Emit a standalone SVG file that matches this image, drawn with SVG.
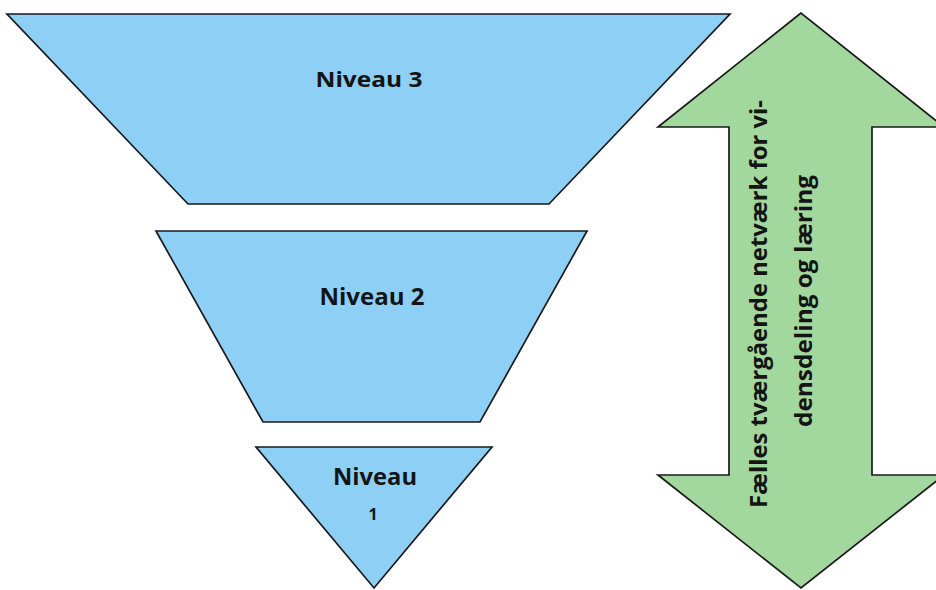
<svg xmlns="http://www.w3.org/2000/svg" width="936" height="590" viewBox="0 0 936 590">
<style>
.lvl{fill:#8ecff6;stroke:#1a1a1a;stroke-width:1.7;stroke-linejoin:miter}
.arr{fill:#a2d79d;stroke:#1a1a1a;stroke-width:1.7}
.t{font-family:"Open Sans","Liberation Sans",sans-serif;font-weight:bold;fill:#141414;text-anchor:middle}
</style>
<rect width="936" height="590" fill="#ffffff"/>
<g id="niveau3">
<polygon class="lvl" points="7,14 730,14 549,204 188,204"/>
<text class="t" x="369" y="87" font-size="22" textLength="107" lengthAdjust="spacingAndGlyphs">Niveau 3</text>
</g>
<g id="niveau2">
<polygon class="lvl" points="156,231 587,231 480,422 263,422"/>
<text class="t" x="372" y="305" font-size="23" textLength="105" lengthAdjust="spacingAndGlyphs">Niveau 2</text>
</g>
<g id="niveau1">
<polygon class="lvl" points="256,447 492,447 374,588"/>
<text class="t" x="375" y="485" font-size="24" textLength="84" lengthAdjust="spacingAndGlyphs">Niveau</text>
<text class="t" x="373" y="520" font-size="16">1</text>
</g>
<g id="netvaerk">
<polygon class="arr" points="801,13 658,127 729,127 729,475 658,475 801,588 944,475 872,475 872,127 944,127"/>
<text class="t" transform="translate(767,304) rotate(-90)" font-size="24" textLength="408" lengthAdjust="spacingAndGlyphs">Fælles tværgående netværk for vi-</text>
<text class="t" transform="translate(812,301) rotate(-90)" font-size="24" textLength="252" lengthAdjust="spacingAndGlyphs">densdeling og læring</text>
</g>
<g id="connectors"/>
</svg>
